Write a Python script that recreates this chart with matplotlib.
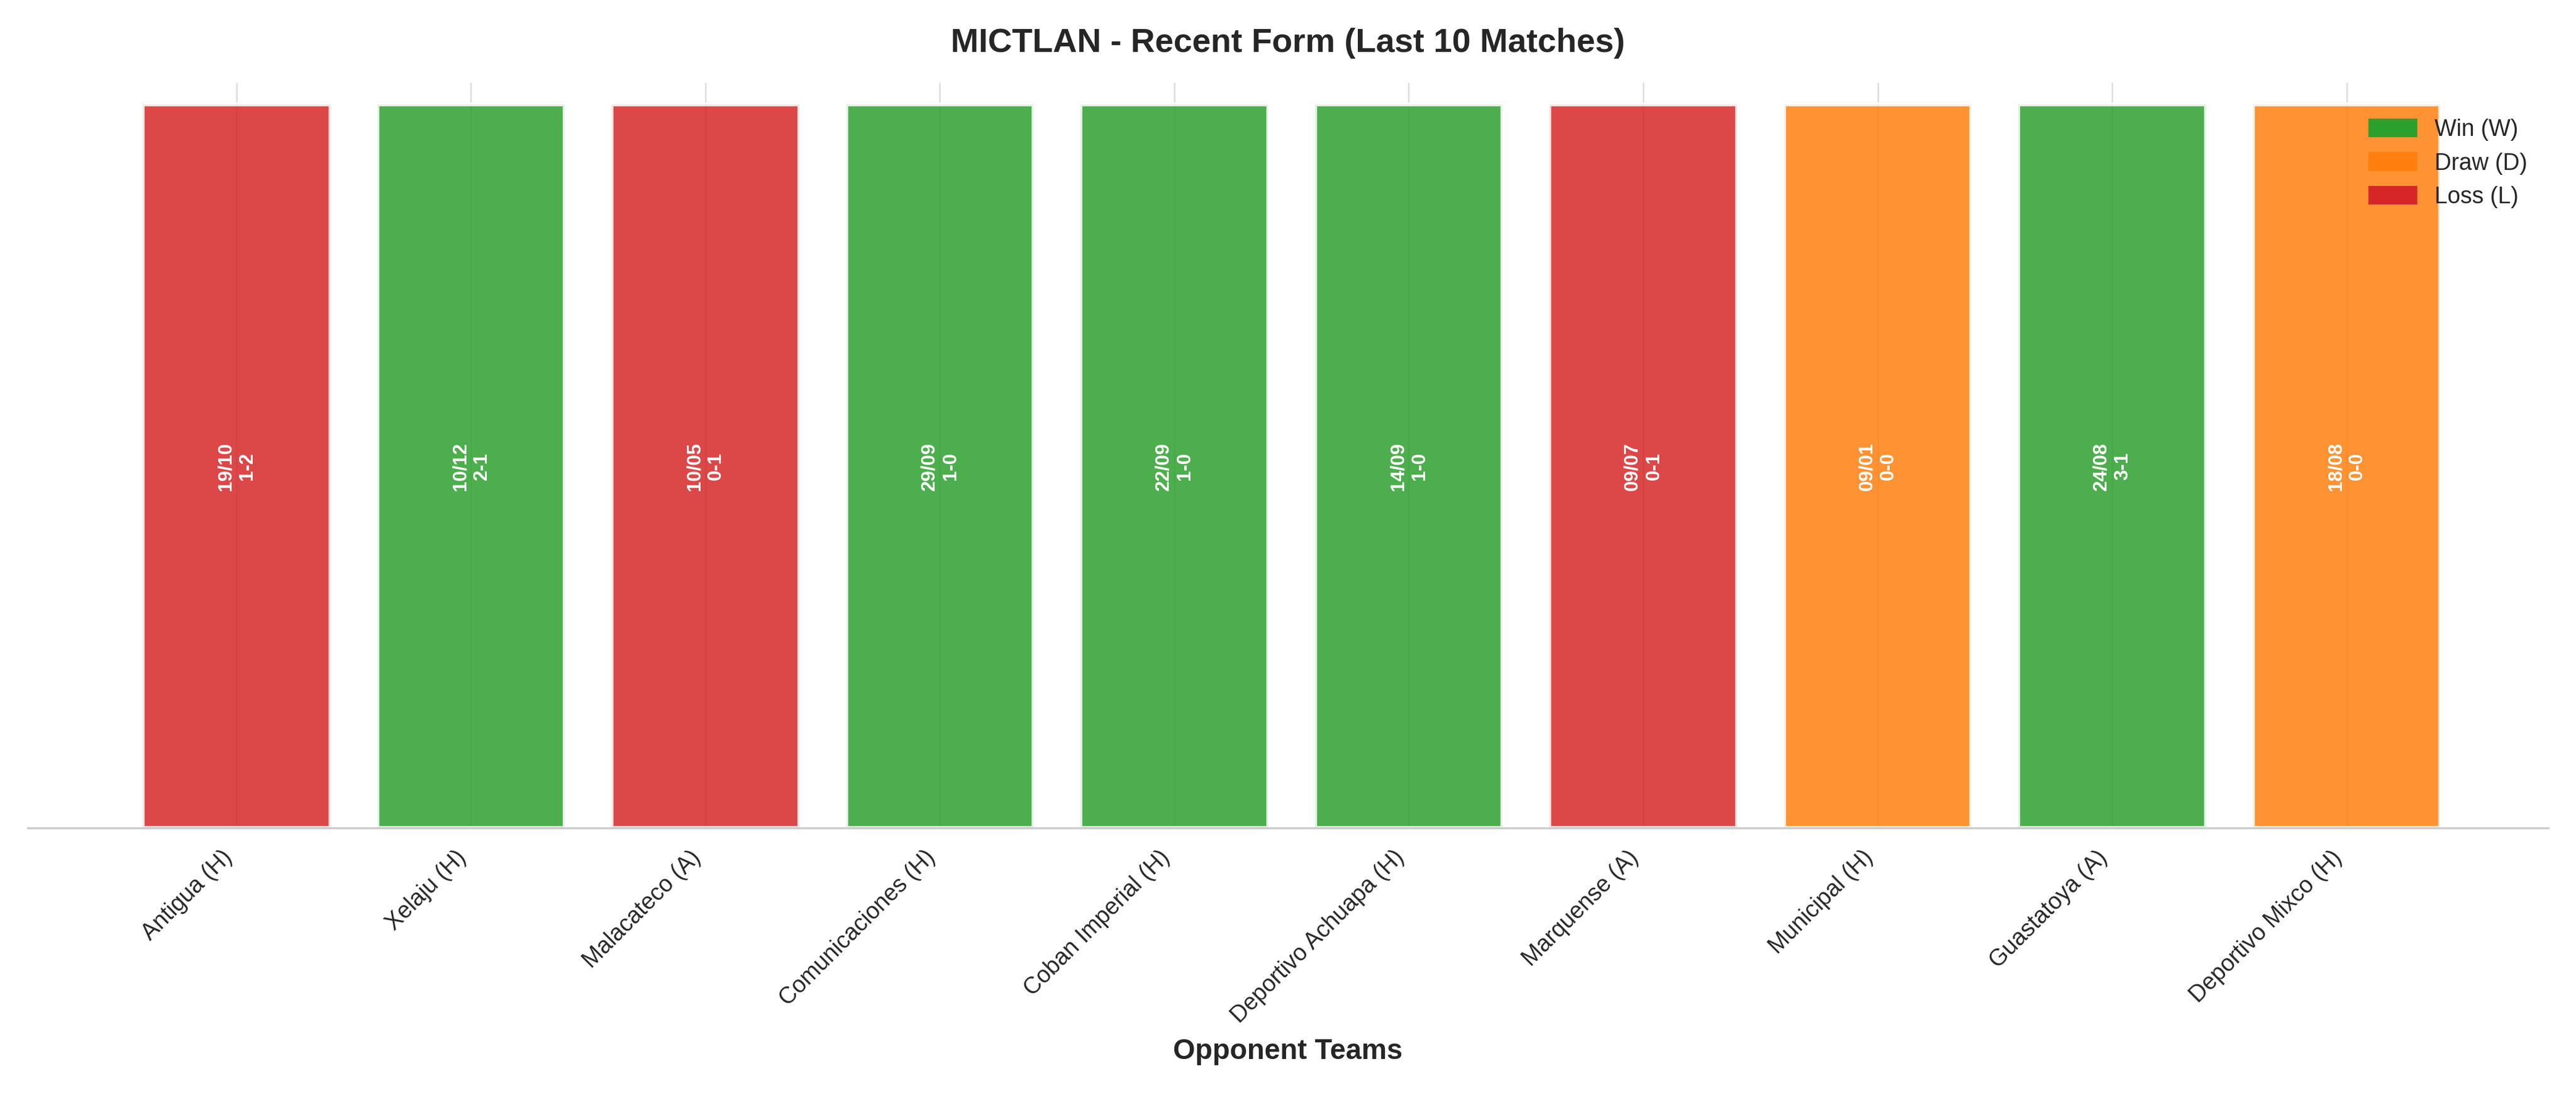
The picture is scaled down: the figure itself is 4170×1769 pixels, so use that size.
import matplotlib
matplotlib.use("Agg")
import matplotlib.pyplot as plt
import seaborn as sns
from matplotlib.patches import Patch

sns.set_style("whitegrid")
plt.rcParams['font.family'] = ['Arial', 'Liberation Sans', 'DejaVu Sans']

opponents = ["Antigua (H)", "Xelaju (H)", "Malacateco (A)", "Comunicaciones (H)",
             "Coban Imperial (H)", "Deportivo Achuapa (H)", "Marquense (A)",
             "Municipal (H)", "Guastatoya (A)", "Deportivo Mixco (H)"]
results = ["L", "W", "L", "W", "W", "W", "L", "D", "W", "D"]
dates = ["19/10", "10/12", "10/05", "29/09", "22/09", "14/09", "09/07", "09/01", "24/08", "18/08"]
scores = ["1-2", "2-1", "0-1", "1-0", "1-0", "1-0", "0-1", "0-0", "3-1", "0-0"]
heights = [1] * 10

colors = {"W": "#2ca02c", "D": "#ff7f0e", "L": "#d62728"}

fig, ax = plt.subplots(figsize=(13.9, 5.897), dpi=300)
ax.set_axisbelow(True)
x = list(range(len(opponents)))
ax.bar(x, heights, color=[colors[r] for r in results], alpha=0.85,
       edgecolor="white", linewidth=1.5, width=0.8, zorder=2)
for i in x:
    ax.text(i, 0.5, f"{dates[i]}\n{scores[i]}", rotation=90, ha="center", va="center",
            color="white", fontsize=7.5, fontweight="bold", zorder=3)

ax.set_xticks(x)
ax.set_xticklabels(opponents, rotation=45, ha="right", fontsize=9)
ax.set_yticks([])
ax.set_ylim(0, 1.03)
ax.set_xlim(-0.89, 9.86)
ax.set_xlabel("Opponent Teams", fontsize=11, fontweight="bold")
ax.set_title("MICTLAN - Recent Form (Last 10 Matches)", fontsize=13, fontweight="bold", pad=12)
for s in ["top", "right", "left"]:
    ax.spines[s].set_visible(False)
ax.spines["bottom"].set_color("#cccccc")
ax.grid(axis="y", visible=False)
ax.grid(axis="x", color="#dddddd", linewidth=0.6, zorder=0)

handles = [Patch(color=colors["W"], label="Win (W)"),
           Patch(color=colors["D"], label="Draw (D)"),
           Patch(color=colors["L"], label="Loss (L)")]
ax.legend(handles=handles, loc="upper right", frameon=False, fontsize=9,
          bbox_to_anchor=(1.0, 0.98))

plt.tight_layout()
fig.savefig("out.png", dpi=300)
